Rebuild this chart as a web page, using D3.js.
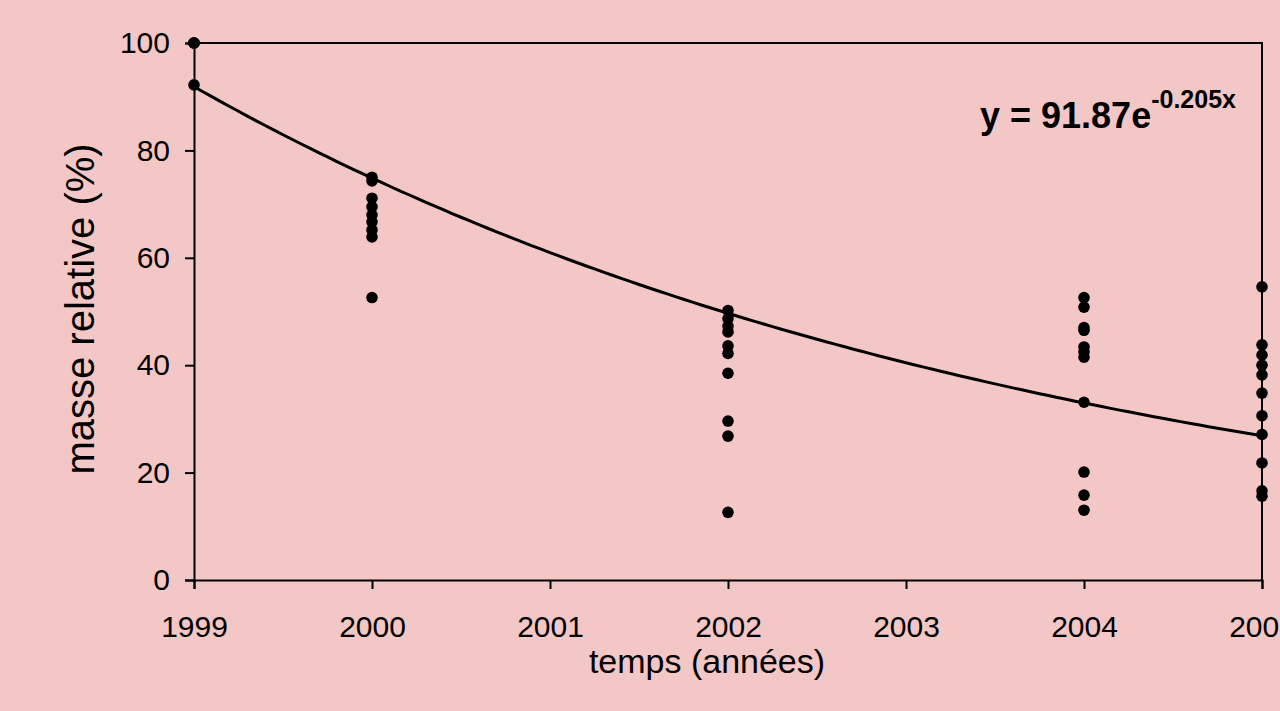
<!DOCTYPE html>
<html>
<head>
<meta charset="utf-8">
<script src="https://cdn.jsdelivr.net/npm/d3@7"></script>
<style>
  html, body { margin: 0; padding: 0; background: #f3c7c6; overflow: hidden; }
  text { font-family: "Liberation Sans", Arial, sans-serif; fill: #000; }
</style>
</head>
<body>
<div id="chart"></div>
<script>
// measured points, one array per year
const years = [1999, 2000, 2002, 2004, 2005];
const mass1999 = [100, 100, 100, 92.2];
const mass2000 = [75.0, 74.3, 71.1, 69.5, 68.0, 66.7, 65.2, 63.9, 52.6];
const mass2002 = [50.2, 48.7, 47.3, 46.2, 43.6, 42.2, 38.5, 29.6, 26.8, 12.6];
const mass2004 = [52.6, 50.8, 47.0, 46.5, 43.4, 42.5, 41.5, 33.1, 20.1, 15.8, 13.0];
const mass2005 = [54.6, 43.8, 41.9, 40.0, 38.2, 34.8, 30.6, 27.1, 21.8, 16.6, 15.6];
const massByYear = [mass1999, mass2000, mass2002, mass2004, mass2005];

// exponential trend shown on the chart: y = 91.87 e^(-0.205 x), x = years since 1999
const trendA = 91.87;
const trendB = -0.205;

const xTicks = [1999, 2000, 2001, 2002, 2003, 2004, 2005];
const yTicks = [0, 20, 40, 60, 80, 100];

const width = 1280, height = 711;
const margin = { top: 43, right: 18, bottom: 131, left: 194 };

const svg = d3.select('#chart').append('svg')
    .attr('width', width)
    .attr('height', height);

const x = d3.scaleLinear()
    .domain([1999, 2005])
    .range([margin.left, width - margin.right]);
const y = d3.scaleLinear()
    .domain([0, 100])
    .range([height - margin.bottom, margin.top]);

// plot area frame (top and right)
svg.append('path')
    .attr('d', `M${x(1999)},${y(100)}H${x(2005)}V${y(0)}`)
    .attr('fill', 'none')
    .attr('stroke', '#000')
    .attr('stroke-width', 2);

// x axis
const xAxis = svg.append('g')
    .attr('transform', `translate(0,${y(0)})`)
    .call(d3.axisBottom(x).tickValues(xTicks).tickFormat(d3.format('d')).tickSize(9).tickPadding(27));
// y axis
const yAxis = svg.append('g')
    .attr('transform', `translate(${x(1999)},0)`)
    .call(d3.axisLeft(y).tickValues(yTicks).tickSize(9).tickPadding(15));

[xAxis, yAxis].forEach(g => {
    g.select('.domain').attr('stroke', '#000').attr('stroke-width', 2);
    g.selectAll('.tick line').attr('stroke', '#000').attr('stroke-width', 2);
    g.selectAll('.tick text')
        .attr('font-family', '"Liberation Sans", Arial, sans-serif')
        .attr('font-size', 30)
        .attr('fill', '#000');
});

// trend line
const tSamples = d3.range(0, 6.001, 0.05);
const line = d3.line()
    .x(t => x(1999 + t))
    .y(t => y(trendA * Math.exp(trendB * t)));
svg.append('path')
    .datum(tSamples)
    .attr('d', line)
    .attr('fill', 'none')
    .attr('stroke', '#000')
    .attr('stroke-width', 3);

// points
const points = [];
years.forEach((yr, i) => massByYear[i].forEach(v => points.push({ year: yr, mass: v })));
svg.selectAll('.pt')
    .data(points)
    .join('circle')
    .attr('class', 'pt')
    .attr('cx', d => x(d.year))
    .attr('cy', d => y(d.mass))
    .attr('r', 5.8)
    .attr('fill', '#000');

// equation
const eq = svg.append('text')
    .attr('x', 980)
    .attr('y', 128)
    .attr('font-size', 36)
    .attr('font-weight', 'bold');
eq.append('tspan').text('y = 91.87e');
eq.append('tspan')
    .attr('font-size', 25)
    .attr('dy', -20)
    .text('-0.205x');

// axis titles
svg.append('text')
    .attr('x', 707)
    .attr('y', 673)
    .attr('text-anchor', 'middle')
    .attr('font-size', 34)
    .text('temps (années)');

svg.append('text')
    .attr('transform', `translate(94,309) rotate(-90)`)
    .attr('text-anchor', 'middle')
    .attr('font-size', 40)
    .text('masse relative (%)');
</script>
</body>
</html>
